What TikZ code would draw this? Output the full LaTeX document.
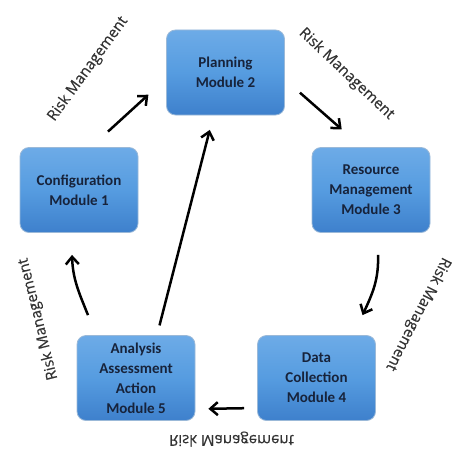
\documentclass[tikz,border=0pt]{standalone}
\usepackage{fontspec}
\setmainfont{Carlito}
\newfontfamily\riskfont[FakeBold=0.4]{Open Sans}
\usepackage{tikz}
\usetikzlibrary{arrows.meta}
\definecolor{boxtop}{HTML}{6DABE7}
\definecolor{boxmid}{HTML}{569CE0}
\definecolor{boxbot}{HTML}{3E80CC}
\definecolor{boxline}{HTML}{9BB9D8}
\definecolor{boxtext}{HTML}{17233B}
\tikzstyle{module}=[rounded corners=9pt, draw=boxline, line width=.8pt, top color=boxtop, bottom color=boxbot, middle color=boxmid, minimum width=118pt, minimum height=85pt, align=center, text=boxtext, font=\fontsize{15}{20}\selectfont\bfseries]
\tikzstyle{flow}=[line width=2.5pt, -{Straight Barb[length=7.5pt,width=13pt]}]
\tikzstyle{risk}=[text=black!80, font=\riskfont\fontsize{15}{18}\selectfont, inner sep=0pt]

\begin{document}
\begin{tikzpicture}[x=1pt, y=1pt]
  \useasboundingbox (0,0) rectangle (454,448);
  \node[module] (plan) at (225.5,375.5) {Planning\\Module 2};
  \node[module] (config) at (79,258) {Configuration\\Module 1};
  \node[module] (res) at (371,258) {Resource\\Management\\Module 3};
  \node[module] (ana) at (136,70) {Analysis\\Assessment\\Action\\Module 5};
  \node[module] (data) at (316.5,70) {Data\\Collection\\Module 4};
  % cycle
  \draw[flow, shorten <=23pt, shorten >=24pt] ([xshift=12pt]config.north) -- ([yshift=-6pt]plan.west);
  \draw[flow, shorten <=20pt, shorten >=27pt] ([yshift=-7pt]plan.east) -- ([xshift=-9pt]res.north);
  \draw[flow] ([xshift=7pt,yshift=-22pt]res.south) to[out=-88, in=65] ([xshift=46pt,yshift=20pt]data.north);
  \draw[flow, shorten <=13pt, shorten >=13pt] ([yshift=-30pt]data.west) -- ([yshift=-31pt]ana.east);
  \draw[flow] ([xshift=-48pt,yshift=20pt]ana.north) to[out=112, in=-88] ([xshift=-7pt,yshift=-22pt]config.south);
  \draw[flow, shorten <=10pt, shorten >=15pt] ([xshift=21pt]ana.north) -- ([xshift=-12pt]plan.south);
  % labels
  \node[risk, rotate=54] (r1) at (88,379) {Risk Management};
  \node[risk, rotate=-43.5] (r2) at (346.5,374) {Risk Management};
  \node[risk, rotate=-117] (r3) at (418,134) {Risk Management};
  \node[risk, yscale=-1, transform shape] (r4) at (231.5,9) {Risk Management};
  \node[risk, rotate=104] (r5) at (38.5,129) {Risk Management};
\end{tikzpicture}
\end{document}
